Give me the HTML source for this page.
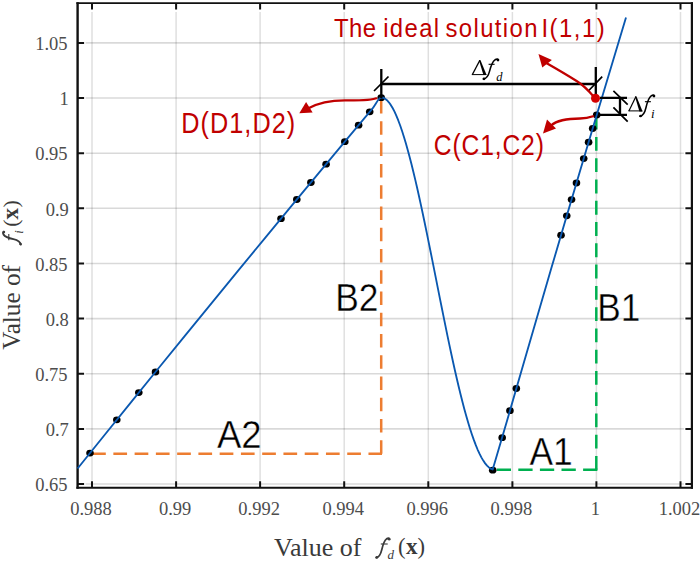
<!DOCTYPE html><html><head><meta charset="utf-8"><style>html,body{margin:0;padding:0;background:#fff;width:700px;height:562px;overflow:hidden}svg{display:block}</style></head><body>
<svg width="700" height="562" viewBox="0 0 700 562">
<path d="M92.0,12.1V480.7 M176.1,12.1V480.7 M260.1,12.1V480.7 M344.2,12.1V480.7 M428.3,12.1V480.7 M512.4,12.1V480.7 M596.4,12.1V480.7 M680.5,12.1V480.7" stroke="#000" stroke-opacity="0.125" stroke-width="1.5" fill="none"/>
<path d="M85.6,42.9H683.9 M85.6,98.0H683.9 M85.6,153.2H683.9 M85.6,208.3H683.9 M85.6,263.5H683.9 M85.6,318.6H683.9 M85.6,373.7H683.9 M85.6,428.9H683.9 M85.6,484.0H683.9" stroke="#000" stroke-opacity="0.15" stroke-width="1.6" fill="none"/>
<path d="M76.39999999999999,3.1H693.0" stroke="#111" stroke-width="1.8" fill="none"/>
<path d="M76.39999999999999,487.7H693.0" stroke="#111" stroke-width="2" fill="none"/>
<path d="M77.6,2.2V488.7" stroke="#111" stroke-width="2.4" fill="none"/>
<path d="M691.9,2.2V488.7" stroke="#111" stroke-width="2.2" fill="none"/>
<path d="M92.0,487.7v-6.5M92.0,3.1v6.5 M176.1,487.7v-6.5M176.1,3.1v6.5 M260.1,487.7v-6.5M260.1,3.1v6.5 M344.2,487.7v-6.5M344.2,3.1v6.5 M428.3,487.7v-6.5M428.3,3.1v6.5 M512.4,487.7v-6.5M512.4,3.1v6.5 M596.4,487.7v-6.5M596.4,3.1v6.5 M680.5,487.7v-6.5M680.5,3.1v6.5 M77.6,42.9h6.5M691.9,42.9h-6.5 M77.6,98.0h6.5M691.9,98.0h-6.5 M77.6,153.2h6.5M691.9,153.2h-6.5 M77.6,208.3h6.5M691.9,208.3h-6.5 M77.6,263.5h6.5M691.9,263.5h-6.5 M77.6,318.6h6.5M691.9,318.6h-6.5 M77.6,373.7h6.5M691.9,373.7h-6.5 M77.6,428.9h6.5M691.9,428.9h-6.5 M77.6,484.0h6.5M691.9,484.0h-6.5" stroke="#111" stroke-width="2" fill="none"/>
<text x="91.0" y="514.5" text-anchor="middle" style="font-family:&quot;Liberation Serif&quot;,serif;font-size:18.5px;fill:#4d4d4d">0.988</text>
<text x="175.1" y="514.5" text-anchor="middle" style="font-family:&quot;Liberation Serif&quot;,serif;font-size:18.5px;fill:#4d4d4d">0.99</text>
<text x="259.1" y="514.5" text-anchor="middle" style="font-family:&quot;Liberation Serif&quot;,serif;font-size:18.5px;fill:#4d4d4d">0.992</text>
<text x="343.2" y="514.5" text-anchor="middle" style="font-family:&quot;Liberation Serif&quot;,serif;font-size:18.5px;fill:#4d4d4d">0.994</text>
<text x="427.3" y="514.5" text-anchor="middle" style="font-family:&quot;Liberation Serif&quot;,serif;font-size:18.5px;fill:#4d4d4d">0.996</text>
<text x="511.4" y="514.5" text-anchor="middle" style="font-family:&quot;Liberation Serif&quot;,serif;font-size:18.5px;fill:#4d4d4d">0.998</text>
<text x="595.4" y="514.5" text-anchor="middle" style="font-family:&quot;Liberation Serif&quot;,serif;font-size:18.5px;fill:#4d4d4d">1</text>
<text x="679.5" y="514.5" text-anchor="middle" style="font-family:&quot;Liberation Serif&quot;,serif;font-size:18.5px;fill:#4d4d4d">1.002</text>
<text x="67.5" y="50.1" text-anchor="end" style="font-family:&quot;Liberation Serif&quot;,serif;font-size:18.5px;fill:#4d4d4d">1.05</text>
<text x="68.8" y="105.2" text-anchor="end" style="font-family:&quot;Liberation Serif&quot;,serif;font-size:18.5px;fill:#4d4d4d">1</text>
<text x="67.5" y="160.4" text-anchor="end" style="font-family:&quot;Liberation Serif&quot;,serif;font-size:18.5px;fill:#4d4d4d">0.95</text>
<text x="68.8" y="215.5" text-anchor="end" style="font-family:&quot;Liberation Serif&quot;,serif;font-size:18.5px;fill:#4d4d4d">0.9</text>
<text x="67.5" y="270.7" text-anchor="end" style="font-family:&quot;Liberation Serif&quot;,serif;font-size:18.5px;fill:#4d4d4d">0.85</text>
<text x="68.8" y="325.8" text-anchor="end" style="font-family:&quot;Liberation Serif&quot;,serif;font-size:18.5px;fill:#4d4d4d">0.8</text>
<text x="67.5" y="380.9" text-anchor="end" style="font-family:&quot;Liberation Serif&quot;,serif;font-size:18.5px;fill:#4d4d4d">0.75</text>
<text x="68.8" y="436.1" text-anchor="end" style="font-family:&quot;Liberation Serif&quot;,serif;font-size:18.5px;fill:#4d4d4d">0.7</text>
<text x="67.5" y="491.2" text-anchor="end" style="font-family:&quot;Liberation Serif&quot;,serif;font-size:18.5px;fill:#4d4d4d">0.65</text>
<text x="274" y="556" style="font-family:&quot;Liberation Serif&quot;,serif;font-size:26px;fill:#3a3a3a">Value of</text>
<path d="M376.20,557.70C378.86,557.32 380.59,554.82 381.79,549.64C382.98,544.45 384.45,540.42 386.57,538.88C388.17,537.92 389.10,538.12 389.50,538.88" stroke="#3a3a3a" stroke-width="1.8" fill="none" stroke-linecap="round"/><circle cx="376.80" cy="557.40" r="1.35" fill="#3a3a3a"/><circle cx="389.20" cy="539.20" r="1.3" fill="#3a3a3a"/><path d="M380.80,544.00H387.70" stroke="#3a3a3a" stroke-width="1.1"/>
<text x="387.4" y="559.3" style="font-family:&quot;Liberation Serif&quot;,serif;font-size:13px;font-style:italic;fill:#3a3a3a">d</text>
<text x="398" y="553.7" style="font-family:&quot;Liberation Serif&quot;,serif;font-size:22.6px;fill:#3a3a3a">(</text>
<text x="406.1" y="554" style="font-family:&quot;Liberation Serif&quot;,serif;font-size:23px;font-weight:bold;fill:#3a3a3a">x</text>
<text x="417.4" y="553.7" style="font-family:&quot;Liberation Serif&quot;,serif;font-size:22.6px;fill:#3a3a3a">)</text>
<g transform="translate(19.8,349.5) rotate(-90)"><text x="-0.25" y="0" style="font-family:&quot;Liberation Serif&quot;,serif;font-size:25.2px;fill:#3a3a3a">Value of</text><path d="M104.90,1.00C107.46,0.65 109.12,-1.64 110.28,-6.39C111.43,-11.14 112.84,-14.84 114.88,-16.25C116.42,-17.13 117.32,-16.95 117.70,-16.25" stroke="#3a3a3a" stroke-width="1.8" fill="none" stroke-linecap="round"/><circle cx="105.50" cy="0.70" r="1.35" fill="#3a3a3a"/><circle cx="117.40" cy="-15.90" r="1.3" fill="#3a3a3a"/><path d="M109.20,-11.00H115.60" stroke="#3a3a3a" stroke-width="1.1"/><text x="115.8" y="3.5" style="font-family:&quot;Liberation Serif&quot;,serif;font-size:12.5px;font-style:italic;fill:#3a3a3a">i</text><text x="122.8" y="-2.05" style="font-family:&quot;Liberation Serif&quot;,serif;font-size:21.8px;fill:#3a3a3a">(</text><text x="130.1" y="-1.7" style="font-family:&quot;Liberation Serif&quot;,serif;font-size:23px;font-weight:bold;fill:#3a3a3a">x</text><text x="142" y="-2.05" style="font-family:&quot;Liberation Serif&quot;,serif;font-size:21.8px;fill:#3a3a3a">)</text></g>
<path d="M381.2,100.1V454" stroke="#ED7D31" stroke-width="2.5" fill="none" stroke-dasharray="13.5 7.76"/>
<path d="M92.1,453.7H382" stroke="#ED7D31" stroke-width="2.5" fill="none" stroke-dasharray="13.7 7.56"/>
<path d="M596.3,115.8V470.8" stroke="#00B050" stroke-width="2.5" fill="none" stroke-dasharray="13.8 7.46"/>
<path d="M597.4,469.7H494" stroke="#00B050" stroke-width="2.5" fill="none" stroke-dasharray="14.3 7.3"/>
<ellipse cx="90.00" cy="453.09" rx="3.8" ry="3.4" fill="#000"/>
<ellipse cx="116.80" cy="419.81" rx="3.8" ry="3.4" fill="#000"/>
<ellipse cx="138.80" cy="392.59" rx="3.8" ry="3.4" fill="#000"/>
<ellipse cx="155.50" cy="371.99" rx="3.8" ry="3.4" fill="#000"/>
<ellipse cx="281.00" cy="218.63" rx="3.8" ry="3.4" fill="#000"/>
<ellipse cx="296.80" cy="199.51" rx="3.8" ry="3.4" fill="#000"/>
<ellipse cx="310.90" cy="182.48" rx="3.8" ry="3.4" fill="#000"/>
<ellipse cx="326.10" cy="164.17" rx="3.8" ry="3.4" fill="#000"/>
<ellipse cx="344.80" cy="141.69" rx="3.8" ry="3.4" fill="#000"/>
<ellipse cx="358.60" cy="125.14" rx="3.8" ry="3.4" fill="#000"/>
<ellipse cx="369.70" cy="111.85" rx="3.8" ry="3.4" fill="#000"/>
<ellipse cx="381.20" cy="97.70" rx="3.8" ry="3.4" fill="#000"/>
<ellipse cx="492.70" cy="470.20" rx="3.8" ry="3.4" fill="#000"/>
<ellipse cx="502.18" cy="437.70" rx="3.8" ry="3.4" fill="#000"/>
<ellipse cx="509.94" cy="410.70" rx="3.8" ry="3.4" fill="#000"/>
<ellipse cx="516.34" cy="388.50" rx="3.8" ry="3.4" fill="#000"/>
<ellipse cx="561.04" cy="235.20" rx="3.8" ry="3.4" fill="#000"/>
<ellipse cx="566.76" cy="215.80" rx="3.8" ry="3.4" fill="#000"/>
<ellipse cx="571.55" cy="199.60" rx="3.8" ry="3.4" fill="#000"/>
<ellipse cx="576.46" cy="183.00" rx="3.8" ry="3.4" fill="#000"/>
<ellipse cx="583.71" cy="158.60" rx="3.8" ry="3.4" fill="#000"/>
<ellipse cx="588.59" cy="142.20" rx="3.8" ry="3.4" fill="#000"/>
<ellipse cx="592.67" cy="128.50" rx="3.8" ry="3.4" fill="#000"/>
<ellipse cx="596.71" cy="115.00" rx="3.8" ry="3.4" fill="#000"/>
<path d="M77.6,468.52L104.36,435.24L131.13,402.08L157.89,369.04L184.65,336.12L211.42,303.33L238.18,270.65L264.95,238.10L291.71,205.66L318.47,173.35L345.24,141.16L372.00,109.09C375.5,105 378.5,97.6 381.3,97.4L383.19,97.75L385.08,98.69L386.96,100.20L388.85,102.28L390.74,104.90L392.63,108.04L394.52,111.70L396.41,115.84L398.29,120.46L400.18,125.53L402.07,131.03L403.96,136.94L405.85,143.24L407.73,149.91L409.62,156.94L411.51,164.28L413.40,171.93L415.29,179.87L417.17,188.06L419.06,196.49L420.95,205.13L422.84,213.96L424.73,222.95L426.62,232.09L428.50,241.35L430.39,250.71L432.28,260.14L434.17,269.61L436.06,279.12L437.94,288.62L439.83,298.10L441.72,307.54L443.61,316.91L445.50,326.19L447.38,335.35L449.27,344.38L451.16,353.26L453.05,361.95L454.94,370.44L456.83,378.71L458.71,386.74L460.60,394.51L462.49,401.99L464.38,409.17L466.27,416.04L468.15,422.56L470.04,428.73L471.93,434.52L473.82,439.93L475.71,444.93L477.59,449.51L479.48,453.66L481.37,457.36L483.26,460.60L485.15,463.37L487.04,465.65L488.92,467.44L490.81,468.73L492.70,469.51L507.26,420.00L521.77,369.70L536.38,319.40L551.08,269.10L565.88,218.80L580.77,168.50L595.75,118.20L610.83,67.90L626.00,17.60" stroke="#0A58B0" stroke-width="1.85" fill="none" stroke-linejoin="round"/>
<path d="M381.3,69V98M381.3,84H595.8M595.8,67V98M600,97.8H627M598,114.9H627M620,97.8V114.9" stroke="#000" stroke-width="2.3" fill="none"/>
<path d="M374,91L388.5,76.5M588.3,91L602.2,76.7M613.4,90.9L627.7,104.6M613.4,107.4L627.7,121.7" stroke="#000" stroke-width="1.7" fill="none"/>
<path d="M377,98C372,100.5 360,100.5 345,100.4C330,100.5 318,103 308.5,108.3" stroke="#C00000" stroke-width="2.3" fill="none"/>
<path d="M299.3,113.3L306.1,102.1L312.6,112.4Z" fill="#C00000"/>
<path d="M594,97C588,90 583,85 577,81.3C567,75 555,68 545,62.3" stroke="#C00000" stroke-width="2.3" fill="none"/>
<path d="M538.5,54.1L551.9,59.9L542.3,67.4Z" fill="#C00000"/>
<path d="M594,116C588,118 584,118.5 580,118.5C570,118.5 558,119.5 551,125.5" stroke="#C00000" stroke-width="2.3" fill="none"/>
<path d="M543,133.5L547,119.5L556,128.5Z" fill="#C00000"/>
<circle cx="595.5" cy="98.3" r="4.5" fill="#D40000"/>
<text transform="translate(333.90,36.8) scale(0.920,1)" style="font-family:&quot;Liberation Sans&quot;,sans-serif;fill:#C00000;font-size:26px;letter-spacing:0.49px">The</text>
<text transform="translate(383.13,36.8) scale(0.920,1)" style="font-family:&quot;Liberation Sans&quot;,sans-serif;fill:#C00000;font-size:26px;letter-spacing:1.50px">ideal</text>
<text transform="translate(445.38,36.8) scale(0.920,1)" style="font-family:&quot;Liberation Sans&quot;,sans-serif;fill:#C00000;font-size:26px;letter-spacing:1.52px">solution</text>
<text transform="translate(541.45,36.8) scale(0.920,1)" style="font-family:&quot;Liberation Sans&quot;,sans-serif;fill:#C00000;font-size:26px;letter-spacing:1.63px">I(1,1)</text>
<text transform="translate(181.18,132.8) scale(0.870,1)" style="font-family:&quot;Liberation Sans&quot;,sans-serif;fill:#C00000;font-size:29px;letter-spacing:1.24px">D(D1,D2)</text>
<text transform="translate(433.77,155.3) scale(0.850,1)" style="font-family:&quot;Liberation Sans&quot;,sans-serif;fill:#C00000;font-size:29px;letter-spacing:1.02px">C(C1,C2)</text>
<text transform="translate(216.9,448.3) scale(0.951,1)" style="font-family:&quot;Liberation Sans&quot;,sans-serif;fill:#000;font-size:38.5px" stroke="#fff" stroke-width="0.4">A2</text>
<text transform="translate(335.2,311.1) scale(0.92,1)" style="font-family:&quot;Liberation Sans&quot;,sans-serif;fill:#000;font-size:38.5px" stroke="#fff" stroke-width="0.4">B2</text>
<text transform="translate(529.4,465.4) scale(0.918,1)" style="font-family:&quot;Liberation Sans&quot;,sans-serif;fill:#000;font-size:38.5px" stroke="#fff" stroke-width="0.4">A1</text>
<text transform="translate(597.2,320.6) scale(0.915,1)" style="font-family:&quot;Liberation Sans&quot;,sans-serif;fill:#000;font-size:38.5px" stroke="#fff" stroke-width="0.4">B1</text>
<path d="M472.30,74.60L479.70,60.60" stroke="#000" stroke-width="1.2" fill="none"/><path d="M478.90,60.00L480.40,60.00L486.60,75.10L483.40,75.10Z" fill="#000"/><path d="M471.80,74.60H486.30" stroke="#000" stroke-width="1.0" fill="none"/>
<path d="M483.40,79.10C486.38,78.71 488.32,76.14 489.66,70.83C491.00,65.51 492.64,61.37 495.02,59.79C496.81,58.81 497.85,59.01 498.30,59.79" stroke="#000" stroke-width="1.55" fill="none" stroke-linecap="round"/><circle cx="484.00" cy="78.80" r="1.35" fill="#000"/><circle cx="498.00" cy="60.10" r="1.3" fill="#000"/><path d="M488.60,64.30H494.60" stroke="#000" stroke-width="1.1"/>
<text x="496.2" y="80.8" style="font-family:&quot;Liberation Serif&quot;,serif;fill:#000;font-size:12.5px;font-style:italic">d</text>
<path d="M628.90,110.90L635.70,96.90" stroke="#000" stroke-width="1.2" fill="none"/><path d="M634.90,96.30L636.40,96.30L642.60,111.40L639.40,111.40Z" fill="#000"/><path d="M628.40,110.90H642.30" stroke="#000" stroke-width="1.0" fill="none"/>
<path d="M640.00,116.30C642.86,115.88 644.72,113.16 646.01,107.52C647.29,101.88 648.87,97.49 651.15,95.82C652.87,94.77 653.87,94.98 654.30,95.82" stroke="#000" stroke-width="1.55" fill="none" stroke-linecap="round"/><circle cx="640.60" cy="116.00" r="1.35" fill="#000"/><circle cx="654.00" cy="96.10" r="1.3" fill="#000"/><path d="M644.90,101.70H650.90" stroke="#000" stroke-width="1.1"/>
<text x="651" y="118" style="font-family:&quot;Liberation Serif&quot;,serif;fill:#000;font-size:13px;font-style:italic">i</text>
</svg></body></html>
